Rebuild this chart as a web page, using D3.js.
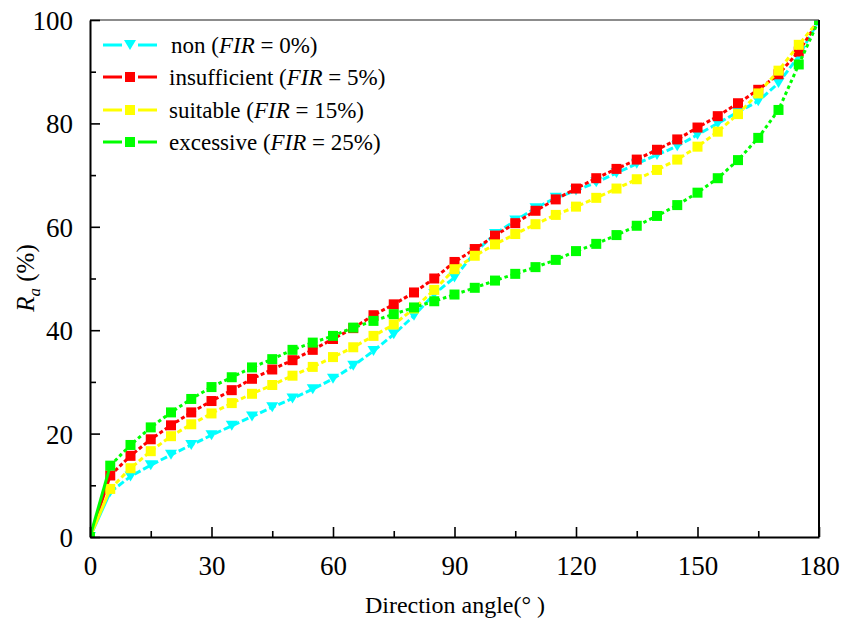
<!DOCTYPE html>
<html>
<head>
<meta charset="utf-8">
<script src="https://cdn.jsdelivr.net/npm/d3@7"></script>
</head>
<body style="margin:0;background:#fff">
<svg id="chart" width="842" height="621"></svg>
<script>
// ---------- data ----------
const angles = [0,5,10,15,20,25,30,35,40,45,50,55,60,65,70,75,80,85,90,95,100,105,110,115,120,125,130,135,140,145,150,155,160,165,170,175,180];

const nonFIR = [0,8.7,11.7,13.9,15.9,17.8,19.7,21.5,23.3,25.1,26.8,28.6,30.6,33.1,36.0,39.2,42.8,47.0,50.2,55.0,58.6,61.2,63.6,65.6,67.0,68.6,70.4,72.2,73.9,75.6,77.8,80.0,82.2,84.3,87.8,93.0,100];
const insufficientFIR = [0,11.9,15.7,18.9,21.6,24.1,26.3,28.4,30.6,32.4,34.2,36.2,38.3,40.4,42.9,45.0,47.3,50.0,53.2,55.7,58.3,60.7,63.1,65.3,67.4,69.4,71.2,73.0,74.9,76.9,79.2,81.4,83.9,86.5,89.5,93.9,100];
const suitableFIR = [0,9.3,13.3,16.6,19.5,21.8,23.9,25.9,27.7,29.4,31.2,32.9,34.8,36.7,38.9,41.1,44.2,47.8,51.8,54.4,56.6,58.6,60.5,62.3,63.9,65.6,67.4,69.2,71.0,73.0,75.5,78.4,81.8,85.8,90.2,95.2,100];
const excessiveFIR = [0,13.8,17.8,21.2,24.1,26.7,29.0,30.9,32.8,34.4,36.2,37.6,38.9,40.5,41.8,43.1,44.4,45.6,46.9,48.2,49.6,50.9,52.2,53.6,55.3,56.7,58.4,60.2,62.1,64.2,66.6,69.4,72.9,77.2,82.6,91.4,100];

const seriesNames = ["non", "insufficient", "suitable", "excessive"];
const seriesFIR = ["0%", "5%", "15%", "25%"];
const xTicks = [0,30,60,90,120,150,180];
const xMinorTicks = [15,45,75,105,135,165];
const yTicks = [0,20,40,60,80,100];
const yMinorTicks = [10,30,50,70,90];

// ---------- styles ----------
const FONT = '"Liberation Serif"';
const styles = [
  { color: "#00FFFF", marker: "tri",    dash: "7,3" },
  { color: "#FF0000", marker: "square", dash: "4,2.5" },
  { color: "#FFFF00", marker: "square", dash: "5,3" },
  { color: "#00FF00", marker: "square", dash: "3.5,3" }
];
const seriesValues = [nonFIR, insufficientFIR, suitableFIR, excessiveFIR];

// ---------- layout ----------
const svg = d3.select("#chart");
const L = 90, R = 819, T = 20, B = 537;
const x = d3.scaleLinear().domain([0,180]).range([L,R]);
const y = d3.scaleLinear().domain([0,100]).range([B,T]);

svg.append("defs").append("clipPath").attr("id","plotclip")
  .append("rect").attr("x",L).attr("y",T).attr("width",R-L).attr("height",B-T);

const plot = svg.append("g").attr("clip-path","url(#plotclip)");

function drawMarker(g, type, cx, cy, color) {
  if (type === "square") {
    g.append("rect").attr("x",cx-5).attr("y",cy-5).attr("width",10).attr("height",10)
      .attr("fill",color);
  } else {
    g.append("path").attr("d",`M${cx-6},${cy-5}L${cx+6},${cy-5}L${cx},${cy+5}Z`)
      .attr("fill",color);
  }
}

seriesValues.forEach((vals, si) => {
  const st = styles[si];
  const pts = angles.map((a,i) => [a, vals[i]]);
  const line = d3.line().x(d => x(d[0])).y(d => y(d[1]));
  const g = plot.append("g");
  g.append("path").attr("d", line(pts.slice(0,2))).attr("fill","none")
    .attr("stroke", st.color).attr("stroke-width",3);
  g.append("path").attr("d", line(pts.slice(1))).attr("fill","none")
    .attr("stroke", st.color).attr("stroke-width",3)
    .attr("stroke-dasharray", st.dash);
  pts.forEach(p => drawMarker(g, st.marker, x(p[0]), y(p[1]), st.color));
});

// ---------- axes ----------
const axisG = svg.append("g");
axisG.append("line").attr("x1",L).attr("x2",R).attr("y1",T).attr("y2",T).attr("stroke","#666").attr("stroke-width",1.5);
axisG.append("line").attr("x1",R).attr("x2",R).attr("y1",T).attr("y2",B).attr("stroke","#000").attr("stroke-width",2);

const xAxis = d3.axisBottom(x).tickValues(xTicks).tickSizeInner(-10).tickSizeOuter(0).tickPadding(19);
const gx = axisG.append("g").attr("transform",`translate(0,${B})`).call(xAxis);
const xMinor = d3.axisBottom(x).tickValues(xMinorTicks).tickSizeInner(-6).tickSizeOuter(0).tickFormat("");
axisG.append("g").attr("transform",`translate(0,${B})`).call(xMinor).select(".domain").remove();

const yAxis = d3.axisLeft(y).tickValues(yTicks).tickSizeInner(-10).tickSizeOuter(0).tickPadding(17);
const gy = axisG.append("g").attr("transform",`translate(${L},0)`).call(yAxis);
const yMinor = d3.axisLeft(y).tickValues(yMinorTicks).tickSizeInner(-6).tickSizeOuter(0).tickFormat("");
axisG.append("g").attr("transform",`translate(${L},0)`).call(yMinor).select(".domain").remove();

axisG.selectAll("g").attr("font-family", null).attr("font-size", null);
axisG.selectAll(".domain").attr("stroke","#000").attr("stroke-width",2);
axisG.selectAll(".tick line").attr("stroke","#000").attr("stroke-width",1.6);
axisG.selectAll(".tick text").style("font-family",FONT).style("font-size","27px").attr("fill","#000");
gy.selectAll(".tick text").attr("dy","0.35em");

// axis titles
svg.append("text").attr("x",455).attr("y",613).attr("text-anchor","middle")
  .style("font-family",FONT).style("font-size","24px").text("Direction angle(\u00B0 )");

const yt = svg.append("text").attr("transform","translate(34,278) rotate(-90)")
  .attr("text-anchor","middle").style("font-family",FONT).style("font-size","25px");
yt.append("tspan").style("font-family",FONT).style("font-style","italic").text("R");
yt.append("tspan").style("font-family",FONT).style("font-style","italic").style("font-size","17px").attr("dy",6).text("a");
yt.append("tspan").style("font-family",FONT).attr("dy",-6).text(" (%)");

// ---------- legend ----------
const legendY = [45, 77, 110, 142];
seriesNames.forEach((name, i) => {
  const st = styles[i];
  const g = svg.append("g");
  const ly = legendY[i];
  g.append("line").attr("x1",103).attr("x2",122).attr("y1",ly).attr("y2",ly).attr("stroke",st.color).attr("stroke-width",3);
  g.append("line").attr("x1",138).attr("x2",157).attr("y1",ly).attr("y2",ly).attr("stroke",st.color).attr("stroke-width",3);
  drawMarker(g, st.marker, 130, ly, st.color);
  const t = g.append("text").attr("x", i === 0 ? 171 : 169).attr("y", ly + 8)
    .style("font-family",FONT).style("font-size","23px");
  t.append("tspan").style("font-family",FONT).text(name + " (");
  t.append("tspan").style("font-family",FONT).style("font-style","italic").text("FIR");
  t.append("tspan").style("font-family",FONT).text(" = " + seriesFIR[i] + ")");
});
</script>
</body>
</html>
